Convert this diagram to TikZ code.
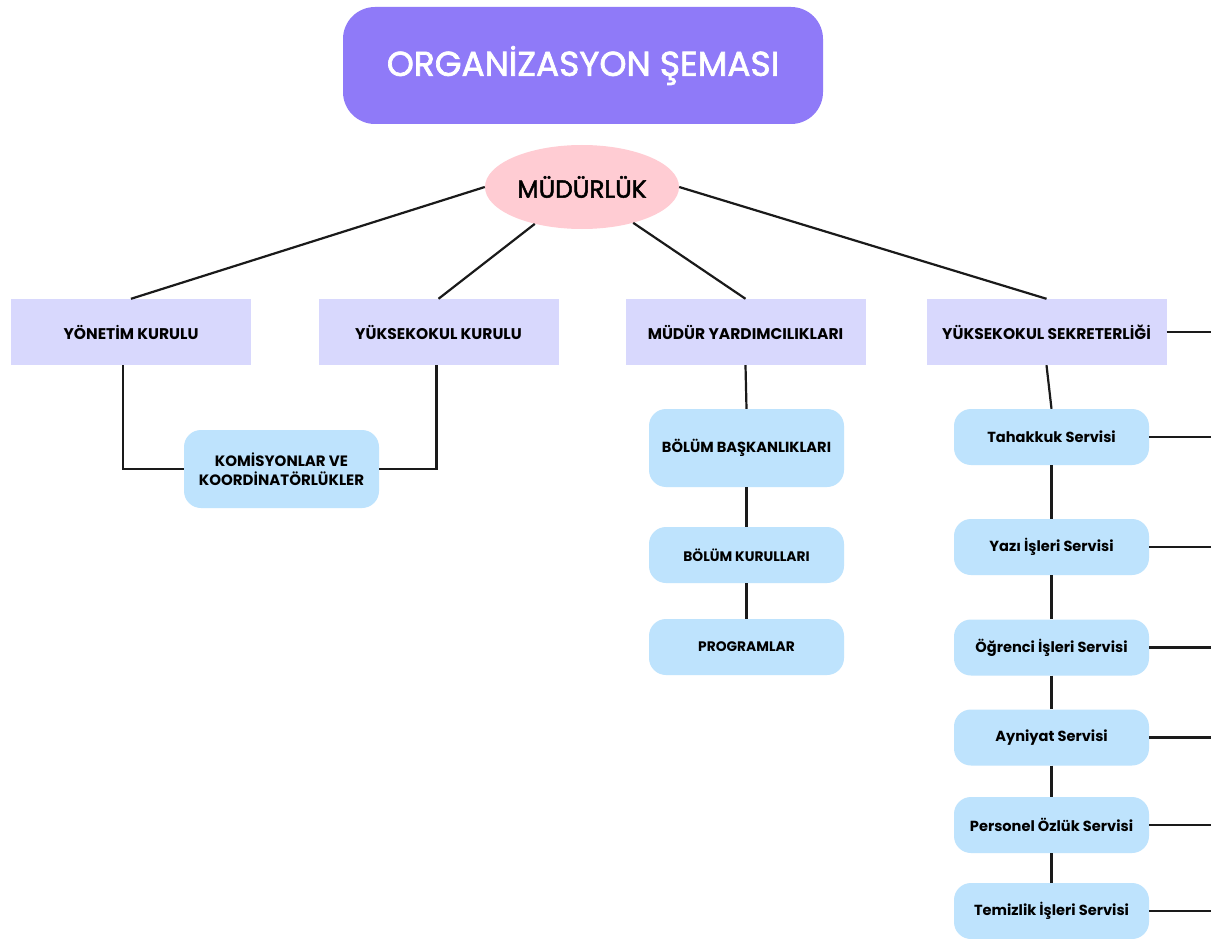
\documentclass[tikz,border=0pt]{standalone}
\usepackage{fontspec}
\setmainfont{Poppins}
\newfontfamily\medfont{Poppins}[FakeBold=2]
\usetikzlibrary{shapes.geometric}
\definecolor{titlec}{HTML}{8F7AF8}
\definecolor{pinkc}{HTML}{FFCCD3}
\definecolor{lavc}{HTML}{D8D8FD}
\definecolor{bluec}{HTML}{BEE3FD}
\definecolor{linec}{HTML}{1A1A1A}
\tikzset{
  conn/.style={draw=linec, line width=2.2pt},
  lvbox/.style={fill=lavc, minimum width=240pt, minimum height=66pt, inner sep=0pt, font=\bfseries\fontsize{15.5}{18}\selectfont},
  bbox/.style={fill=bluec, rounded corners=17pt, minimum width=195pt, inner sep=0pt, align=center, font=\bfseries\fontsize{14.6}{17}\selectfont},
}
\begin{document}
\begin{tikzpicture}[x=1pt,y=-1pt]
\useasboundingbox[fill=white] (0,0) rectangle (1211,939);
\begin{scope}
\clip (0,0) rectangle (1211,939);
\node[fill=titlec, rounded corners=32pt, minimum width=480pt, minimum height=117pt, text=white, font=\medfont\fontsize{34.4}{40}\selectfont] (title) at (583,65.5) {ORGANİZASYON ŞEMASI};
\node[ellipse, fill=pinkc, minimum width=194pt, minimum height=84pt, inner sep=0pt, font=\medfont\fontsize{24.7}{28}\selectfont] (mud) at (582,187) {MÜDÜRLÜK};

\node[lvbox] (yon) at (131,332) {YÖNETİM KURULU};
\node[lvbox] (yuk) at (438.5,332) {YÜKSEKOKUL KURULU};
\node[lvbox] (myr) at (745.5,332) {MÜDÜR YARDIMCILIKLARI};
\node[lvbox] (sek) at (1046.5,332) {YÜKSEKOKUL SEKRETERLİĞİ};

\node[bbox, minimum height=78pt, font=\bfseries\fontsize{15}{18.5}\selectfont] (kom) at (281.5,469) {KOMİSYONLAR VE\\KOORDİNATÖRLÜKLER};

\node[bbox, minimum height=78pt] (bb) at (746.5,448) {BÖLÜM BAŞKANLIKLARI};
\node[bbox, minimum height=56pt, font=\bfseries\fontsize{13.8}{16}\selectfont] (bk) at (746.5,555) {BÖLÜM KURULLARI};
\node[bbox, minimum height=56pt, font=\bfseries\fontsize{13.8}{16}\selectfont] (pr) at (746.5,647) {PROGRAMLAR};

\node[bbox, minimum height=56pt] (s1) at (1051.5,437) {Tahakkuk Servisi};
\node[bbox, minimum height=56pt] (s2) at (1051.5,547) {Yazı İşleri Servisi};
\node[bbox, minimum height=56pt] (s3) at (1051.5,647.5) {Öğrenci İşleri Servisi};
\node[bbox, minimum height=56pt] (s4) at (1051.5,737.5) {Ayniyat Servisi};
\node[bbox, minimum height=56pt] (s5) at (1051.5,825) {Personel Özlük Servisi};
\node[bbox, minimum height=56pt] (s6) at (1051.5,911) {Temizlik İşleri Servisi};

\coordinate (e0) at (1211,332);
\coordinate (e1) at (1211,437);
\coordinate (e2) at (1211,547);
\coordinate (e3) at (1211,647.5);
\coordinate (e4) at (1211,737.5);
\coordinate (e5) at (1211,825);
\coordinate (e6) at (1211,911);

% connectors from Müdürlük
\draw[conn] (mud.west) -- (yon.north);
\draw[conn] (mud.-142) -- (yuk.north);
\draw[conn] (mud.-35) -- (myr.north);
\draw[conn] (mud.east) -- (sek.north);

% Komisyonlar bracket
\draw[conn] ([xshift=-8pt]yon.south) |- (kom.west);
\draw[conn] (kom.east) -| ([xshift=-2pt]yuk.south);

% Müdür yardımcılıkları chain
\draw[conn] (myr.south) -- (bb.north);
\draw[conn] (bb.south) -- (bk.north);
\draw[conn] (bk.south) -- (pr.north);

% Sekreterlik chain
\draw[conn] (sek.south) -- (s1.north);
\draw[conn] (s1.south) -- (s2.north);
\draw[conn] (s2.south) -- (s3.north);
\draw[conn] (s3.south) -- (s4.north);
\draw[conn] (s4.south) -- (s5.north);
\draw[conn] (s5.south) -- (s6.north);

\draw[conn] (sek.east) -- (e0);
\draw[conn] (s1.east) -- (e1);
\draw[conn] (s2.east) -- (e2);
\draw[conn] (s3.east) -- (e3);
\draw[conn] (s4.east) -- (e4);
\draw[conn] (s5.east) -- (e5);
\draw[conn] (s6.east) -- (e6);
\end{scope}
\end{tikzpicture}
\end{document}
